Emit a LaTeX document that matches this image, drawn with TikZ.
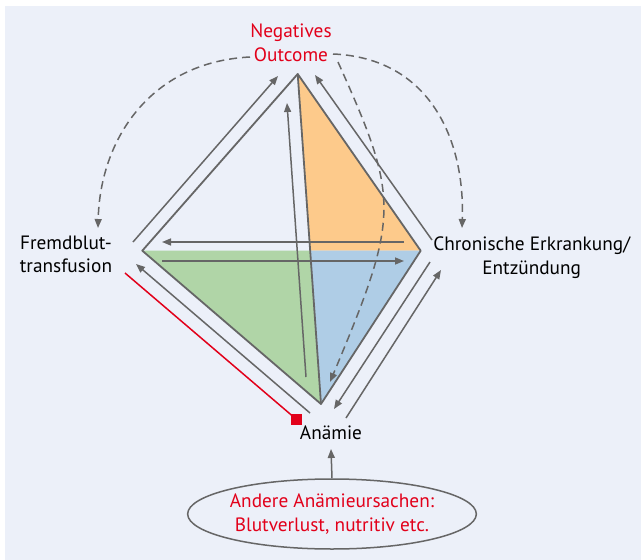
\documentclass[tikz,border=0pt]{standalone}
\usepackage{fontspec}
\setmainfont{PT Sans}
\usetikzlibrary{arrows.meta,shapes.geometric}
\definecolor{bg}{HTML}{ECF0F9}
\definecolor{ln}{HTML}{666666}
\definecolor{rd}{HTML}{E2001A}
\definecolor{org}{HTML}{FDCA8B}
\definecolor{blu}{HTML}{AFCDE6}
\definecolor{grn}{HTML}{B0D5A7}
\begin{document}
\begin{tikzpicture}[x=1pt,y=-1pt,
  edge/.style={draw=ln, line width=1.8pt, line join=round},
  arr/.style={draw=ln, line width=1.5pt, -{Triangle[length=9pt,width=7pt]}},
  darr/.style={draw=ln, line width=1.5pt, dash pattern=on 8pt off 5pt, -{Triangle[length=9pt,width=7pt]}},
  lab/.style={font=\fontsize{19.3}{23.5}\selectfont, align=center, inner sep=0pt, text=black},
]
\useasboundingbox (0,0) rectangle (641,560);
\fill[white] (0,0) rectangle (641,560);
\fill[bg] (5,6) rectangle (641,560);

% vertices
\coordinate (T) at (297.7,74);
\coordinate (L) at (142.3,250.7);
\coordinate (R) at (420.7,250.7);
\coordinate (B) at (321,404);
\coordinate (M) at (310.2,250.7);

% fills
\fill[org] (T) -- (R) -- (M) -- cycle;
\fill[blu] (M) -- (R) -- (B) -- cycle;
\fill[grn] (L) -- (M) -- (B) -- cycle;

% edges
\draw[edge] (L) -- (T) -- (R) -- (B) -- cycle;
\draw[edge] (T) -- (B);

% labels (base = baseline of last line)
\node[lab, text=rd, anchor=base] (neg) at (291,61) {Negatives\\Outcome};
\node[lab, anchor=base] (frd) at (66,272.5) {Fremdblut-\\transfusion};
\node[lab, anchor=base] (chr) at (531.7,274) {Chronische Erkrankung/\\Entzündung};
\node[lab, anchor=base] (anm) at (331,439.3) {Anämie};
\node[lab, text=rd, draw=ln, line width=1.5pt, ellipse, minimum width=248pt, minimum height=70pt] (oth) at (332,514) {Andere Anämieursachen:\\Blutverlust, nutritiv etc.};

% arrow endpoints
\coordinate (a1s) at (133,242);   \coordinate (a1e) at (278,76);
\coordinate (a2s) at (432,240);   \coordinate (a2e) at (315,75);
\coordinate (a3s) at (306,377);   \coordinate (a3e) at (287,103);
\coordinate (a4s) at (404,242);   \coordinate (a4e) at (162,242);
\coordinate (a5s) at (162,261);   \coordinate (a5e) at (404,261);
\coordinate (a6s) at (310,413);   \coordinate (a6e) at (136,264);
\coordinate (a7s) at (430,262);   \coordinate (a7e) at (334,409);
\coordinate (a8s) at (346,418);   \coordinate (a8e) at (441,270);
\coordinate (a9e) at (331,449);

\draw[arr] (a1s) -- (a1e);
\draw[arr] (a2s) -- (a2e);
\draw[arr] (a3s) -- (a3e);
\draw[arr] (a4s) -- (a4e);
\draw[arr] (a5s) -- (a5e);
\draw[arr] (a6s) -- (a6e);
\draw[arr] (a7s) -- (a7e);
\draw[arr] (a8s) -- (a8e);
\draw[arr] (oth.north) -- (a9e);

% dashed arrows
\coordinate (d1s) at (250,57);  \coordinate (d1e) at (98,228);
\coordinate (d2s) at (333,54);  \coordinate (d2e) at (462,228);
\coordinate (d3s) at (338,62);  \coordinate (d3e) at (330,382);
\draw[darr] (d1s) .. controls (150,62) and (100,140) .. (d1e);
\draw[darr] (d2s) .. controls (430,58) and (465,140) .. (d2e);
\draw[darr] (d3s) .. controls (400,200) and (400,215) .. (d3e);

% red inhibition line
\coordinate (rl) at (125,273);
\node[fill=rd, minimum size=11pt, inner sep=0pt] (sq) at (296,419) {};
\draw[rd, line width=1.5pt] (rl) -- (sq.center);
\node[fill=rd, minimum size=11pt, inner sep=0pt] at (sq.center) {};
\end{tikzpicture}
\end{document}
